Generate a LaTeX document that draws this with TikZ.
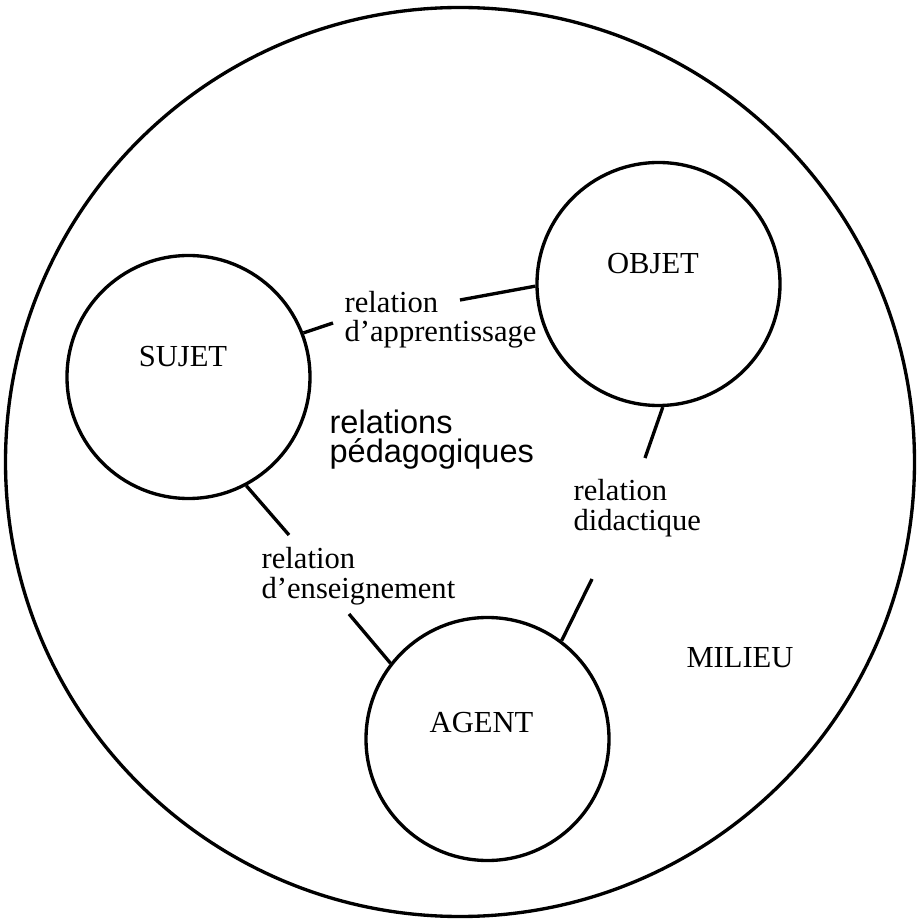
\documentclass[tikz,border=0pt]{standalone}
\usepackage{fontspec}
\setmainfont{Liberation Serif}
\newfontfamily\helv{Liberation Sans}
\begin{document}
\begin{tikzpicture}[line width=1.9pt,
		every node/.style={font=\fontsize{17.4}{17}\selectfont},
		pole/.style={draw, circle, minimum size=4.86cm, inner sep=0pt},
		rel/.style={align=left, anchor=base west, inner sep=0pt}]
	\useasboundingbox (-9.2,-9.18) rectangle (9.12,9.24);
	\node (milieu) [draw, circle, minimum size=18.18cm] at (0,0) {};
	\node (sujet) [pole, label={[xshift=-0.11cm, yshift=0.41cm]center:SUJET}] at (-5.43,1.70) {};
	\node (objet) [pole, label={[xshift=-0.11cm, yshift=0.41cm]center:OBJET}] at (3.97,3.56) {};
	\node (agent) [pole, label={[xshift=-0.12cm, yshift=0.33cm]center:AGENT}] at (0.55,-5.54) {};
	% relation labels (base = last line)
	\node (app) [rel] at (-2.34,2.40) {relation\\d'apprentissage};
	\node (did) [rel] at (2.24,-1.36) {relation\\didactique};
	\node (ens) [rel] at (-4.0,-2.72) {relation\\d'enseignement};
	\node (ped) [rel, font=\helv\fontsize{18.5}{17}\selectfont] at (-2.64,-0.02) {relations\\pédagogiques};
	\node (mil) at (5.6,-3.92) {MILIEU};
	% free ends of the connectors
	\coordinate (app-l) at (-2.54,2.78);
	\coordinate (app-r) at (0.0,3.24);
	\coordinate (did-t) at (3.70,0.08);
	\coordinate (did-b) at (2.64,-2.34);
	\coordinate (ens-t) at (-3.42,-1.46);
	\coordinate (ens-b) at (-2.22,-3.04);
	\draw (sujet.21) -- (app-l);
	\draw (app-r) -- (objet.181);
	\draw (objet.272) -- (did-t);
	\draw (did-b) -- (agent.53);
	\draw (sujet.298) -- (ens-t);
	\draw (ens-b) -- (agent.142);
\end{tikzpicture}
\end{document}
